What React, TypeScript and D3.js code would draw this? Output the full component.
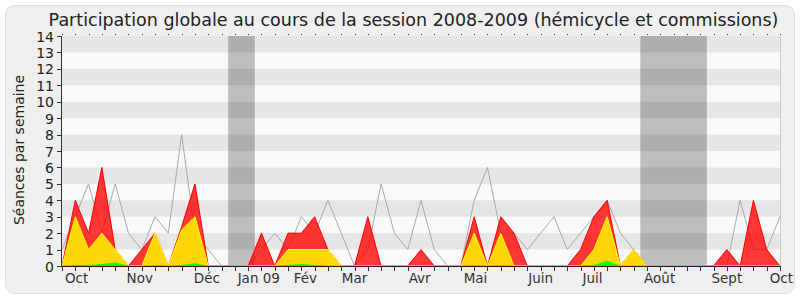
import React from "react";
import * as d3 from "d3";

const totalSeances = [0, 4, 2, 6, 1, 0, 1, 2, 0, 2.4, 5, 0, 0, 0, 0, 2, 0, 2, 2, 3, 1, 0, 0, 3, 0, 0, 0, 1, 0, 0, 0, 3, 0, 3, 2, 0, 0, 0, 0, 1, 3, 4, 0, 1, 0, 0, 0, 0, 0, 0, 1, 0, 4, 1, 0];
const presences = [0, 3, 1, 2, 1, 0, 0, 2, 0, 2.2, 3, 0, 0, 0, 0, 0, 0, 1, 1, 1, 1, 0, 0, 0, 0, 0, 0, 0, 0, 0, 0, 2, 0, 2, 0, 0, 0, 0, 0, 0, 1, 3, 0, 1, 0, 0, 0, 0, 0, 0, 0, 0, 0, 0, 0];
const interventions = [0, 0.05, 0.05, 0.1, 0.2, 0, 0, 0.05, 0, 0.05, 0.15, 0, 0, 0, 0, 0, 0, 0.05, 0.1, 0.05, 0, 0, 0, 0, 0, 0, 0, 0, 0, 0, 0, 0.03, 0, 0.03, 0, 0, 0, 0, 0, 0, 0.05, 0.3, 0, 0, 0, 0, 0, 0, 0, 0, 0, 0, 0, 0, 0];
const hemicycleMedian = [1, 3, 5, 2, 5, 2, 1, 3, 2, 8, 2, 1, 0, 0, 0, 1, 2, 1, 3, 2, 4, 2, 0, 1, 5, 2, 1, 4, 1, 0, 0, 4, 6, 2, 2, 1, 2, 3, 1, 2, 3, 4, 2, 1, 0, 0, 0, 0, 0, 0, 0, 4, 1, 1, 3];
const vacationBands: [number, number][] = [[12.5, 14.5], [43.5, 48.5]];
const monthLabels = ["Oct", "Nov", "Déc", "Jan 09", "Fév", "Mar", "Avr", "Mai", "Juin", "Juil", "Août", "Sept", "Oct"];
const monthPositions = [1.1, 5.85, 10.9, 14.8, 18.3, 22, 26.9, 31.1, 36, 39.9, 44.95, 50, 54.1];
const yTicks = [0, 1, 2, 3, 4, 5, 6, 7, 8, 9, 10, 11, 12, 13, 14];

const W = 800, H = 300;
const L = 62, R = 780, T = 36, B = 266;
const FONT = "'DejaVu Sans', sans-serif";

export default function App() {
  const n = totalSeances.length;
  const x = d3.scaleLinear().domain([0, n - 1]).range([L, R]);
  const y = d3.scaleLinear().domain([0, 14]).range([B, T]);
  const idx = d3.range(n);
  const area = (vals: number[]) =>
    d3.area<number>().x((i) => x(i)).y0(y(0)).y1((i) => y(vals[i]))(idx) || "";
  const line = d3.line<number>().x((i) => x(i)).y((i) => y(hemicycleMedian[i]))(idx) || "";

  return (
    <svg width={W} height={H} style={{ position: "absolute", left: 0, top: 0 }} fontFamily={FONT}>
      <rect x={0} y={0} width={W} height={H} fill="#ffffff" />
      <rect x={5.5} y={5.5} width={789} height={288} rx={9} fill="#efefef" stroke="#dedede" />
      <text x={413.5} y={26} textAnchor="middle" fontSize={17.5} fill="#222">
        Participation globale au cours de la session 2008-2009 (hémicycle et commissions)
      </text>
      {/* plot background */}
      <rect x={L} y={T} width={R - L} height={B - T} fill="#f9f9f9" />
      {vacationBands.map(([a, b], k) => (
        <rect key={"v" + k} x={x(a)} y={T} width={x(b) - x(a)} height={B - T} fill="#bdbdbd" />
      ))}
      {yTicks.slice(0, -1).filter((v) => v % 2 === 1).map((v) => (
        <rect key={"s" + v} x={L} y={y(v + 1)} width={R - L} height={y(v) - y(v + 1)} fill="rgba(0,0,0,0.075)" />
      ))}
      <line x1={R + 0.5} x2={R + 0.5} y1={T} y2={B} stroke="#cccccc" />
      {/* hemicycle line */}
      <path d={line} fill="none" stroke="#aaaaaa" strokeWidth={1} />
      {/* areas */}
      <path d={area(totalSeances)} fill="rgba(255,0,0,0.78)" stroke="#ff0000" strokeWidth={1} strokeLinejoin="round" />
      <path d={area(presences)} fill="#ffd60a" stroke="#ffff00" strokeWidth={1} strokeLinejoin="round" />
      <path d={area(interventions)} fill="#00ff00" stroke="#00ff00" strokeWidth={0.5} />
      {/* axes */}
      <line x1={L - 0.5} x2={L - 0.5} y1={T} y2={B} stroke="#333" />
      <line x1={L} x2={R} y1={B + 0.5} y2={B + 0.5} stroke="#3a1010" />
      {yTicks.map((v) => (
        <g key={"y" + v}>
          <line x1={L - 5} x2={L} y1={Math.round(y(v)) + 0.5} y2={Math.round(y(v)) + 0.5} stroke="#333" />
          <text x={L - 8} y={y(v) + 5.5} textAnchor="end" fontSize={14} fill="#222">
            {v}
          </text>
        </g>
      ))}
      {idx.map((i) => (
        <g key={"t" + i}>
          <line x1={Math.round(x(i)) + 0.5} x2={Math.round(x(i)) + 0.5} y1={B} y2={B + 5} stroke="#333" />
          <rect x={Math.round(x(i))} y={T - 2} width={1} height={1} fill="#333" />
        </g>
      ))}
      {monthLabels.map((m, k) => (
        <text key={"m" + k} x={x(monthPositions[k])} y={283} textAnchor="middle" fontSize={13.5} fill="#333">
          {m}
        </text>
      ))}
      <text transform={`translate(24,150) rotate(-90)`} textAnchor="middle" fontSize={14} fill="#222">
        Séances par semaine
      </text>
    </svg>
  );
}
